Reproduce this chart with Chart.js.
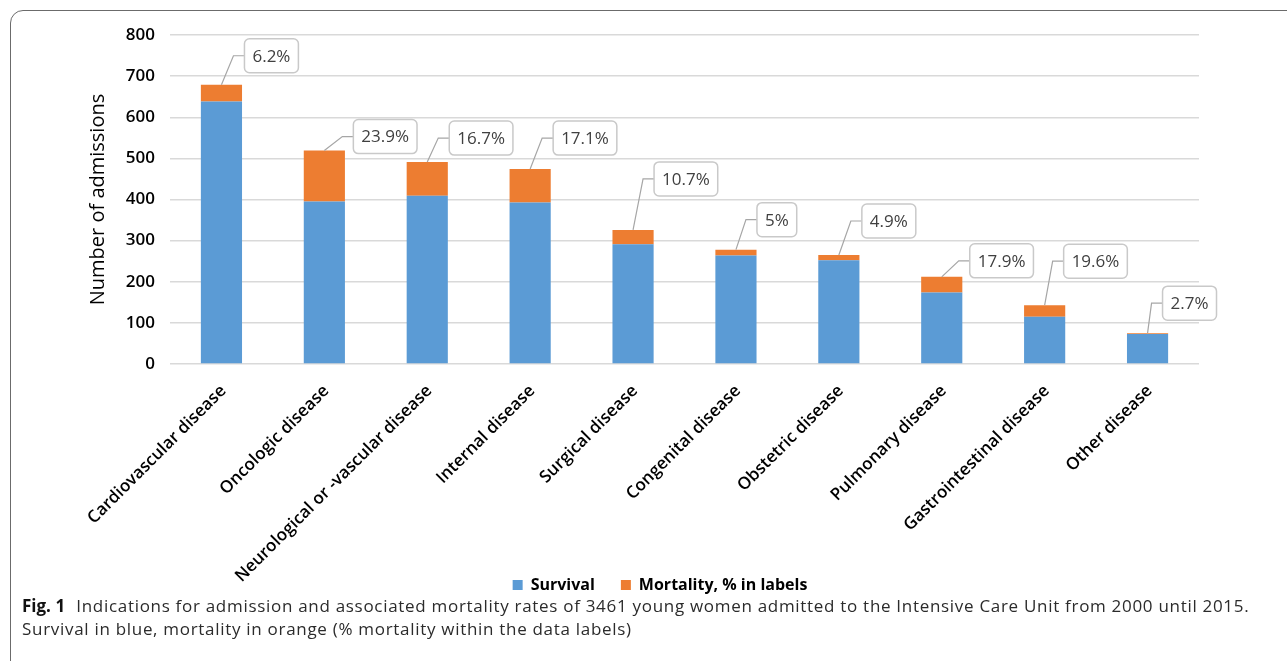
<!DOCTYPE html>
<html>
<head>
<meta charset="utf-8">
<script src="https://cdn.jsdelivr.net/npm/chart.js@4"></script>
<style>
  html, body { margin: 0; padding: 0; background: #fff; width: 1287px; height: 661px; overflow: hidden; }
  #frame { position: absolute; left: 10px; top: 10px; width: 1320px; height: 700px; border: 1.5px solid #6b6b6b; border-radius: 13px; box-sizing: border-box; }
  #chartLine { position: absolute; left: 0; top: 0; }
  #caption { position: absolute; left: 22px; top: 594px; font-family: "Open Sans"; font-size: 17px; letter-spacing: 0.7px; line-height: 23px; color: #2b2b2b; white-space: nowrap; }
  #caption b { color: #111; letter-spacing: 0; margin-right: 6px; }
</style>
</head>
<body>
<div id="frame"></div>
<canvas id="chartLine" width="1287" height="603"></canvas>
<div id="caption"><b>Fig. 1</b> Indications for admission and associated mortality rates of 3461 young women admitted to the Intensive Care Unit from 2000 until 2015.<br>Survival in blue, mortality in orange (% mortality within the data labels)</div>
<script>
const categories = ["Cardiovascular disease", "Oncologic disease", "Neurological or -vascular disease", "Internal disease",
  "Surgical disease", "Congenital disease", "Obstetric disease", "Pulmonary disease", "Gastrointestinal disease", "Other disease"];
const survival = [638, 395, 409, 393, 291, 264, 252, 174, 115, 73];
const mortality = [41, 124, 82, 81, 35, 14, 13, 38, 28, 2];
const mortalityPct = ["6.2%", "23.9%", "16.7%", "17.1%", "10.7%", "5%", "4.9%", "17.9%", "19.6%", "2.7%"];

// where each callout box sits, relative to the top of its bar: [right, up]
const calloutOffsets = [[23, 29], [29, 14], [22, 24], [23, 31], [21, 51], [21, 30], [23, 34], [28, 16], [19, 44], [15, 30]];

const ctxLine = document.querySelector("#chartLine");

const callouts = {
  id: "callouts",
  afterLayout(chart) {
    // let the long rotated labels run down past the legend row instead of being clipped
    chart.scales.x.bottom = chart.height;
  },
  afterDatasetsDraw(chart, args, opts) {
    const ctx = chart.ctx;
    const bars = chart.getDatasetMeta(1).data;
    ctx.save();
    ctx.font = '17px "Open Sans"';
    bars.forEach((bar, i) => {
      const [dx, dy] = opts.offsets[i];
      const txt = opts.labels[i];
      const w = ctx.measureText(txt).width + 16, h = 34;
      const bx = bar.x + dx, cy = bar.y - dy;
      ctx.strokeStyle = "#a6a6a6";
      ctx.lineWidth = 1.2;
      ctx.beginPath();
      ctx.moveTo(bar.x, bar.y);
      ctx.lineTo(bx - 11, cy);
      ctx.lineTo(bx, cy);
      ctx.stroke();
      ctx.beginPath();
      ctx.roundRect(bx, cy - h / 2, w, h, 5);
      ctx.fillStyle = "#fff";
      ctx.fill();
      ctx.strokeStyle = "#c9c9c9";
      ctx.lineWidth = 1.5;
      ctx.stroke();
      ctx.fillStyle = "#404040";
      ctx.textAlign = "left";
      ctx.textBaseline = "middle";
      ctx.fillText(txt, bx + 8, cy + 1);
    });
    ctx.restore();
  }
};

new Chart(ctxLine, {
  type: "bar",
  data: {
    labels: categories,
    datasets: [
      { label: "Survival", data: survival, backgroundColor: "#5b9bd5", borderWidth: 0, barPercentage: 0.4, categoryPercentage: 1 },
      { label: "Mortality, % in labels", data: mortality, backgroundColor: "#ed7d31", borderWidth: 0, barPercentage: 0.4, categoryPercentage: 1 }
    ]
  },
  plugins: [callouts],
  options: {
    responsive: false,
    animation: false,
    layout: { padding: { left: 121, right: 88, top: 35, bottom: 0 } },
    plugins: {
      tooltip: { enabled: false },
      legend: {
        position: "bottom",
        labels: { boxWidth: 10, boxHeight: 10, padding: 26, color: "#000", font: { family: "Open Sans", size: 16, weight: "bold" } }
      },
      callouts: { labels: mortalityPct, offsets: calloutOffsets }
    },
    scales: {
      x: {
        stacked: true,
        grid: { display: false },
        border: { display: false },
        ticks: {
          autoSkip: false, minRotation: 45, maxRotation: 45, padding: 9, labelOffset: 2,
          color: "#000", font: { family: "Open Sans", size: 17, weight: "600" }
        },
        afterFit(scale) {
          scale.paddingLeft = 0;
          scale.paddingRight = 0;
          scale.height = scale.chart.height - scale.chart.legend.height - 364;
        }
      },
      y: {
        stacked: true,
        min: 0, max: 800,
        border: { display: false },
        grid: { color: "#d9d9d9", lineWidth: 1.5, drawTicks: false },
        ticks: { stepSize: 100, padding: 15, color: "#000", font: { family: "Open Sans", size: 17, weight: "600" } },
        title: { display: true, text: "Number of admissions", color: "#000", font: { family: "Open Sans", size: 20 }, padding: { top: -35, bottom: 0 } },
        afterFit(scale) { scale.width = 49; }
      }
    }
  }
});
</script>
</body>
</html>
